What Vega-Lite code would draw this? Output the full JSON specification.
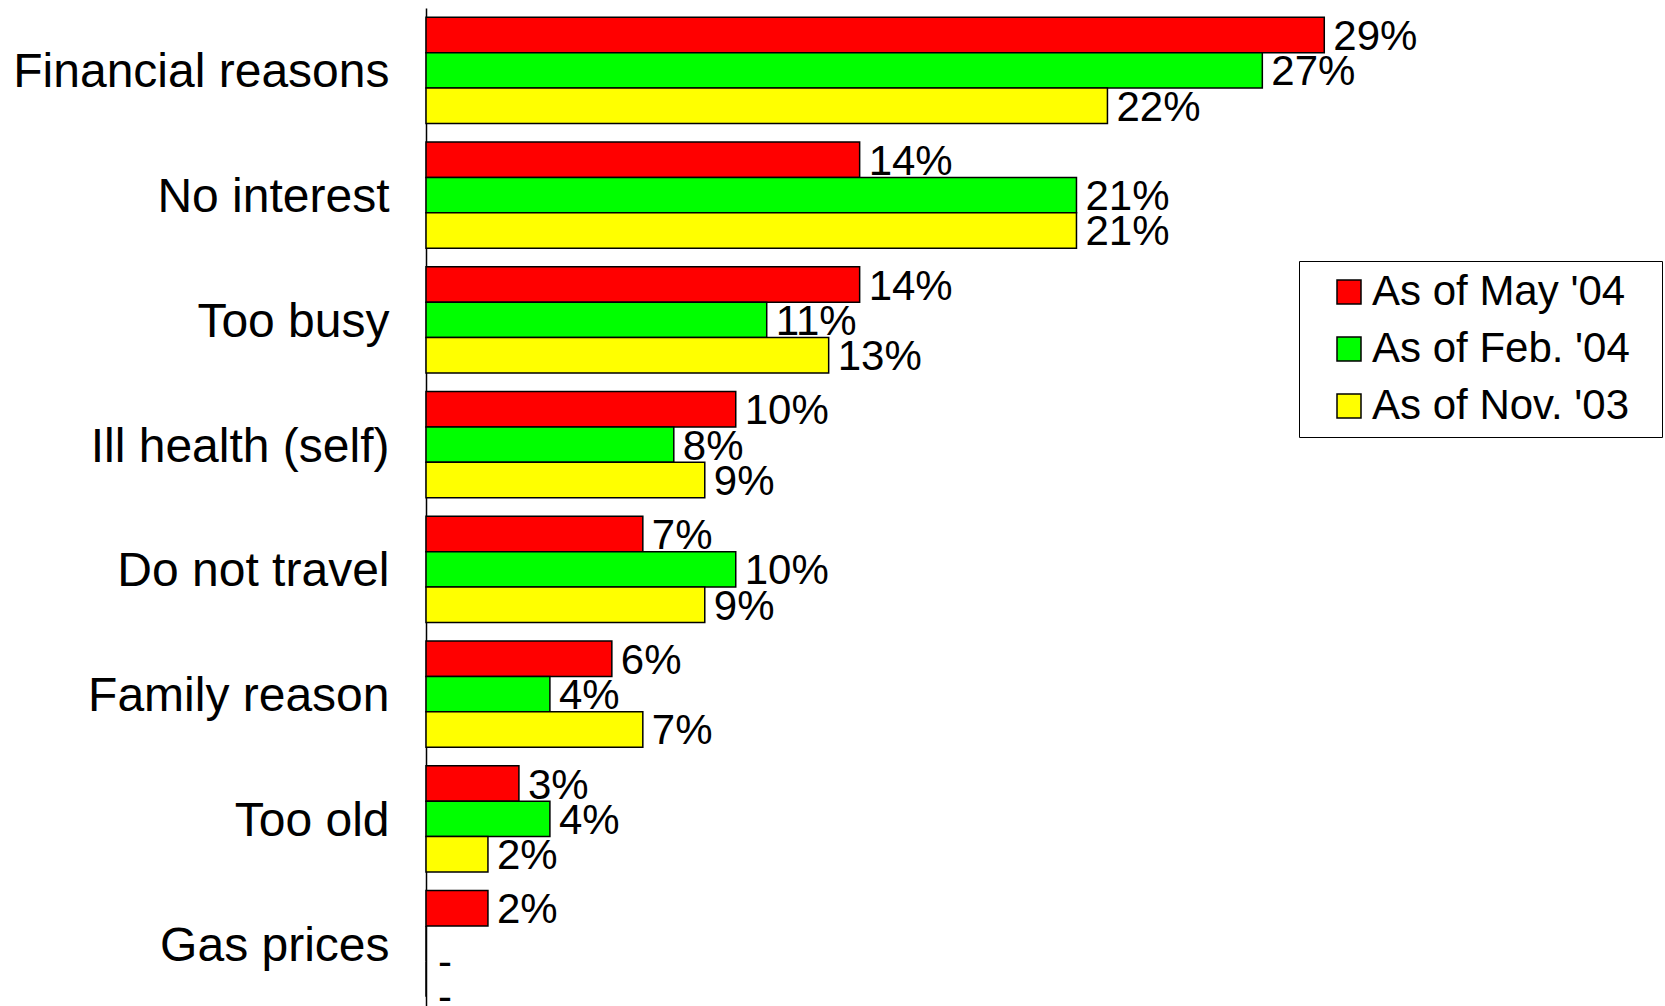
{
  "$schema": "https://vega.github.io/schema/vega-lite/v6.json",
  "width": 1239,
  "height": 998,
  "autosize": {"type": "none"},
  "padding": {"left": 426, "top": 8, "right": 0, "bottom": 0},
  "background": "white",
  "config": {"view": {"stroke": null}, "font": "Liberation Sans"},
  "data": {
    "values": [
      {"reason": "Financial reasons", "series": "As of May '04", "value": 29, "label": "29%"},
      {"reason": "Financial reasons", "series": "As of Feb. '04", "value": 27, "label": "27%"},
      {"reason": "Financial reasons", "series": "As of Nov. '03", "value": 22, "label": "22%"},
      {"reason": "No interest", "series": "As of May '04", "value": 14, "label": "14%"},
      {"reason": "No interest", "series": "As of Feb. '04", "value": 21, "label": "21%"},
      {"reason": "No interest", "series": "As of Nov. '03", "value": 21, "label": "21%"},
      {"reason": "Too busy", "series": "As of May '04", "value": 14, "label": "14%"},
      {"reason": "Too busy", "series": "As of Feb. '04", "value": 11, "label": "11%"},
      {"reason": "Too busy", "series": "As of Nov. '03", "value": 13, "label": "13%"},
      {"reason": "Ill health (self)", "series": "As of May '04", "value": 10, "label": "10%"},
      {"reason": "Ill health (self)", "series": "As of Feb. '04", "value": 8, "label": "8%"},
      {"reason": "Ill health (self)", "series": "As of Nov. '03", "value": 9, "label": "9%"},
      {"reason": "Do not travel", "series": "As of May '04", "value": 7, "label": "7%"},
      {"reason": "Do not travel", "series": "As of Feb. '04", "value": 10, "label": "10%"},
      {"reason": "Do not travel", "series": "As of Nov. '03", "value": 9, "label": "9%"},
      {"reason": "Family reason", "series": "As of May '04", "value": 6, "label": "6%"},
      {"reason": "Family reason", "series": "As of Feb. '04", "value": 4, "label": "4%"},
      {"reason": "Family reason", "series": "As of Nov. '03", "value": 7, "label": "7%"},
      {"reason": "Too old", "series": "As of May '04", "value": 3, "label": "3%"},
      {"reason": "Too old", "series": "As of Feb. '04", "value": 4, "label": "4%"},
      {"reason": "Too old", "series": "As of Nov. '03", "value": 2, "label": "2%"},
      {"reason": "Gas prices", "series": "As of May '04", "value": 2, "label": "2%"},
      {"reason": "Gas prices", "series": "As of Feb. '04", "value": 0, "label": "-"},
      {"reason": "Gas prices", "series": "As of Nov. '03", "value": 0, "label": "-"}
    ]
  },
  "encoding": {
    "y": {
      "field": "reason",
      "type": "nominal",
      "sort": ["Financial reasons", "No interest", "Too busy", "Ill health (self)", "Do not travel", "Family reason", "Too old", "Gas prices"],
      "scale": {"paddingInner": 0.15, "paddingOuter": 0.075},
      "axis": {
        "title": null,
        "ticks": false,
        "labelFontSize": 48,
        "labelPadding": 37,
        "labelOffset": 3,
        "labelColor": "black",
        "labelLimit": 0,
        "domainColor": "black",
        "domainWidth": 1.5
      }
    },
    "yOffset": {
      "field": "series",
      "type": "nominal",
      "sort": ["As of May '04", "As of Feb. '04", "As of Nov. '03"],
      "scale": {"paddingInner": 0, "paddingOuter": 0}
    },
    "x": {
      "field": "value",
      "type": "quantitative",
      "scale": {"domain": [0, 40]},
      "axis": null
    }
  },
  "layer": [
    {
      "mark": {"type": "bar", "stroke": "black", "strokeWidth": 1.5},
      "encoding": {
        "color": {
          "field": "series",
          "type": "nominal",
          "sort": ["As of May '04", "As of Feb. '04", "As of Nov. '03"],
          "scale": {
            "domain": ["As of May '04", "As of Feb. '04", "As of Nov. '03"],
            "range": ["#FF0000", "#00FF00", "#FFFF00"]
          },
          "legend": {
            "title": "\u00a0",
            "titleOrient": "right",
            "titlePadding": 22,
            "titleFontSize": 42,
            "orient": "none",
            "legendX": 873,
            "legendY": 253,
            "fillColor": "white",
            "strokeColor": "black",
            "padding": 10,
            "symbolType": "square",
            "symbolSize": 576,
            "symbolStrokeColor": "black",
            "symbolStrokeWidth": 1.5,
            "symbolOpacity": 1,
            "symbolOffset": 19,
            "labelFontSize": 42,
            "labelColor": "black",
            "labelLimit": 0,
            "labelOffset": 2,
            "rowPadding": 15
          }
        }
      }
    },
    {
      "transform": [{"filter": "datum.label != '-'"}],
      "mark": {"type": "text", "align": "left", "baseline": "middle", "dx": 9, "dy": 2, "fontSize": 42, "color": "black"},
      "encoding": {"text": {"field": "label"}}
    },
    {
      "transform": [{"filter": "datum.label == '-'"}],
      "mark": {"type": "text", "align": "left", "baseline": "middle", "dx": 12, "dy": 19, "fontSize": 42, "color": "black"},
      "encoding": {"text": {"field": "label"}}
    }
  ]
}
